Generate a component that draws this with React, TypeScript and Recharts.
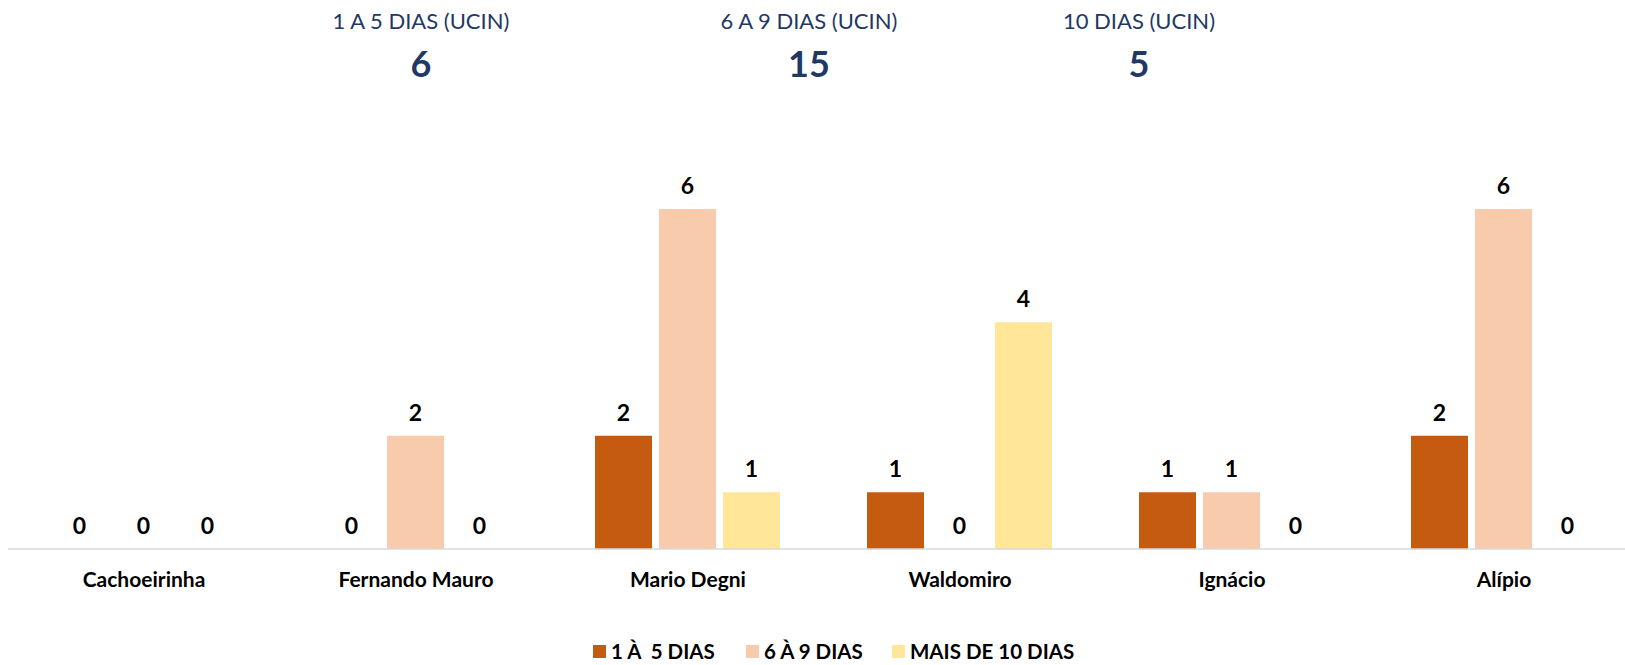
import { Bar, BarChart, LabelList, XAxis, YAxis } from 'recharts'

const categories = ['Cachoeirinha', 'Fernando Mauro', 'Mario Degni', 'Waldomiro', 'Ignácio', 'Alípio']
const dias1a5 = [0, 0, 2, 1, 1, 2]
const dias6a9 = [0, 2, 6, 0, 1, 6]
const mais10 = [0, 0, 1, 4, 0, 0]

const summaryLabels = ['1 A 5 DIAS (UCIN)', '6 A 9 DIAS (UCIN)', '10 DIAS (UCIN)']
const summaryValues = [6, 15, 5]
const summaryX = [421, 809, 1139]

const seriesNames = ['1 À  5 DIAS', '6 À 9 DIAS', 'MAIS DE 10 DIAS']
const colors = ['#C55A11', '#F8CBAD', '#FFE699']
const legendX = [593, 746, 892]

const data = categories.map((name, i) => ({
  name,
  a: dias1a5[i],
  b: dias6a9[i],
  c: mais10[i],
}))

const font = 'Lato, "Open Sans", sans-serif'
const navy = '#1F3864'

export default function App() {
  return (
    <div
      style={{
        position: 'fixed',
        left: 0,
        top: 0,
        width: 1625,
        height: 665,
        overflow: 'hidden',
        background: '#fff',
        fontFamily: font,
      }}
    >
      {summaryLabels.map((label, i) => (
        <div key={label}>
          <div
            style={{
              position: 'absolute',
              left: summaryX[i] - 150,
              width: 300,
              top: 7,
              textAlign: 'center',
              fontSize: 22,
              color: navy,
              whiteSpace: 'pre',
            }}
          >
            {label}
          </div>
          <div
            style={{
              position: 'absolute',
              left: summaryX[i] - 100,
              width: 200,
              top: 41,
              textAlign: 'center',
              fontSize: 36,
              fontWeight: 700,
              color: navy,
            }}
          >
            {summaryValues[i]}
          </div>
        </div>
      ))}

      <div style={{ position: 'absolute', left: 0, top: 0 }}>
        <BarChart
          width={1640}
          height={665}
          data={data}
          margin={{ top: 209, right: 0, left: 8, bottom: 0 }}
          barCategoryGap={43}
          barGap={7}
        >
          <XAxis
            dataKey='name'
            height={116}
            tickLine={false}
            axisLine={{ stroke: '#D9D9D9', strokeWidth: 1.5 }}
            tickMargin={17}
            interval={0}
            tick={{ fill: '#000', fontSize: 21, fontWeight: 700, fontFamily: font }}
          />
          <YAxis hide domain={[0, 6]} />
          {(['a', 'b', 'c'] as const).map((key, i) => (
            <Bar
              key={key}
              dataKey={key}
              name={seriesNames[i]}
              fill={colors[i]}
              minPointSize={0.01}
              isAnimationActive={false}
            >
              <LabelList
                dataKey={key}
                position='top'
                offset={15}
                style={{ fill: '#000', fontSize: 23, fontWeight: 700, fontFamily: font }}
              />
            </Bar>
          ))}
        </BarChart>
      </div>

      {seriesNames.map((name, i) => (
        <div
          key={name}
          style={{
            position: 'absolute',
            left: legendX[i],
            top: 641,
            display: 'flex',
            alignItems: 'center',
            fontSize: 20.5,
            fontWeight: 700,
            color: '#000',
            whiteSpace: 'pre',
            lineHeight: '20px',
          }}
        >
          <span style={{ width: 13, height: 13, background: colors[i], marginRight: 5, display: 'inline-block' }} />
          {name}
        </div>
      ))}
    </div>
  )
}
